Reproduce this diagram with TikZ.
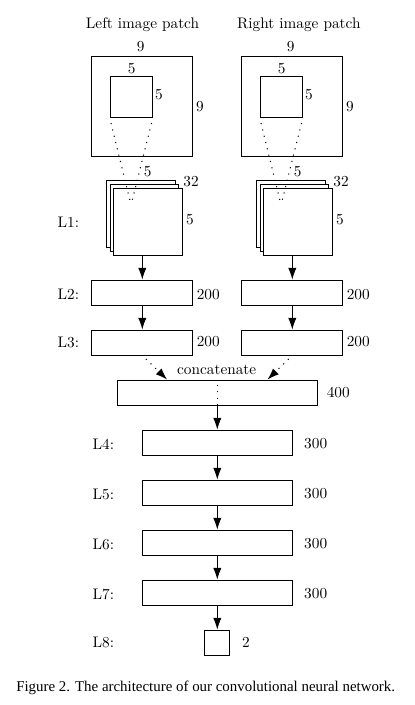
\documentclass[tikz,border=0pt]{standalone}
\usepackage{fontspec}
\newfontfamily\capfont{Liberation Serif}
\usetikzlibrary{arrows.meta,calc}
\begin{document}
\begin{tikzpicture}[x=0.654pt,y=-0.654pt,
  box/.style={draw,line width=0.6pt,inner sep=0pt,fill=white},
  lyr/.style={box,minimum width=65.9pt,minimum height=16.35pt},
  fc/.style={box,minimum width=98.1pt,minimum height=16.35pt},
  stk/.style={box,minimum width=44.9pt,minimum height=44pt},
  lbl/.style={inner sep=0pt,font=\fontsize{10}{12}\selectfont},
  arr/.style={line width=0.6pt,-{Latex[length=7.6pt,width=5.4pt]}},
  dotline/.style={line width=0.7pt,dash pattern=on 0.7pt off 3.55pt,dash phase=0.95pt},
  dotarr/.style={dotline,-{Latex[length=7.6pt,width=5.4pt]}}]
\useasboundingbox (0,0) rectangle (414,705);
% titles
\node[lbl] (tL) at (142.5,25) {Left image patch};
\node[lbl] (tR) at (298.8,25) {Right image patch};
% left patch
\node[box,minimum width=65.9pt,minimum height=65.4pt] (outL) at (142.3,106) {};
\node[box,minimum width=27.5pt,minimum height=27.1pt] (inL) at (131.3,97) {};
\node[lbl] (n9aL) at (140.7,47) {9};
\node[lbl] (n9bL) at (200,107) {9};
\node[lbl] (n5aL) at (131.7,69) {5};
\node[lbl] (n5bL) at (159,95) {5};
% right patch
\node[box,minimum width=65.9pt,minimum height=65.4pt] (outR) at (292.3,106) {};
\node[box,minimum width=27.5pt,minimum height=27.1pt] (inR) at (281.3,97) {};
\node[lbl] (n9aR) at (290.7,47) {9};
\node[lbl] (n9bR) at (350,107) {9};
\node[lbl] (n5aR) at (281.7,69) {5};
\node[lbl] (n5bR) at (309,95) {5};
% L1 stacks
\node[stk] (s3L) at (141.1,213.9) {};
\node[stk] (s2L) at (144.4,218.1) {};
\node[stk] (s1L) at (147.7,222.3) {};
\node[stk] (s3R) at (291.1,213.9) {};
\node[stk] (s2R) at (294.4,218.1) {};
\node[stk] (s1R) at (297.7,222.3) {};
\node[lbl] (k5L) at (147.7,172) {5};
\node[lbl] (k32L) at (191,181.7) {32};
\node[lbl] (k5bL) at (190,220) {5};
\node[lbl] (k5R) at (297.7,172) {5};
\node[lbl] (k32R) at (341,181.7) {32};
\node[lbl] (k5bR) at (340,220) {5};
\coordinate (fL) at (131,205);
\coordinate (fR) at (281,205);
\draw[dotline] (inL.south west) -- (fL);
\draw[dotline] (inL.south east) -- (fL);
\draw[dotline] (inR.south west) -- (fR);
\draw[dotline] (inR.south east) -- (fR);
% L2, L3
\node[lyr] (L2L) at (142.3,292.5) {};
\node[lyr] (L3L) at (142.3,342.5) {};
\node[lyr] (L2R) at (292.3,292.5) {};
\node[lyr] (L3R) at (292.3,342.5) {};
\node[lbl] (d2L) at (208.3,294.3) {200};
\node[lbl] (d3L) at (208.3,341.5) {200};
\node[lbl] (d2R) at (358.3,294.3) {200};
\node[lbl] (d3R) at (358.3,341.5) {200};
% concat
\node[box,minimum width=130.8pt,minimum height=16.35pt] (cat) at (217.3,392.5) {};
\node[lbl] (ctxt) at (216.7,369.5) {concatenate};
\node[lbl] (d400) at (338.3,392) {400};
% L4-L8
\node[fc] (L4) at (217.3,442.5) {};
\node[fc] (L5) at (217.3,492.5) {};
\node[fc] (L6) at (217.3,542.5) {};
\node[fc] (L7) at (217.3,592.5) {};
\node[box,minimum width=16.35pt,minimum height=16.35pt] (L8) at (216.8,642.5) {};
\node[lbl] (d4) at (315.7,444) {300};
\node[lbl] (d5) at (315.7,494) {300};
\node[lbl] (d6) at (315.7,544) {300};
\node[lbl] (d7) at (315.7,594) {300};
\node[lbl] (d8) at (246,642) {2};
% layer labels
\node[lbl] (l1) at (68.3,222) {L1:};
\node[lbl] (l2) at (68.3,294) {L2:};
\node[lbl] (l3) at (68.3,342) {L3:};
\node[lbl] (l4) at (103.3,444) {L4:};
\node[lbl] (l5) at (103.3,494) {L5:};
\node[lbl] (l6) at (103.3,544) {L6:};
\node[lbl] (l7) at (103.3,594) {L7:};
\node[lbl] (l8) at (103.3,642) {L8:};
% arrows
\draw[arr] (L2L.north |- s1L.south) -- (L2L.north);
\draw[arr] (L2R.north |- s1R.south) -- (L2R.north);
\draw[arr] (L2L) -- (L3L);
\draw[arr] (L2R) -- (L3R);
\draw[dotarr] (L3L.south) -- ($(cat.north west)!0.25!(cat.north east)$);
\draw[dotarr] (L3R.south) -- ($(cat.north west)!0.75!(cat.north east)$);
\draw[dotline] (cat.north) -- (cat.south);
\draw[arr] (cat) -- (L4);
\draw[arr] (L4) -- (L5);
\draw[arr] (L5) -- (L6);
\draw[arr] (L6) -- (L7);
\draw[arr] (L7.south) -- (L7.south |- L8.north);
% caption
\node[inner sep=0pt,font=\capfont\fontsize{9.75}{12}\selectfont] (cap) at (205.7,687.5) {Figure 2. The architecture of our convolutional neural network.};
\end{tikzpicture}
\end{document}
